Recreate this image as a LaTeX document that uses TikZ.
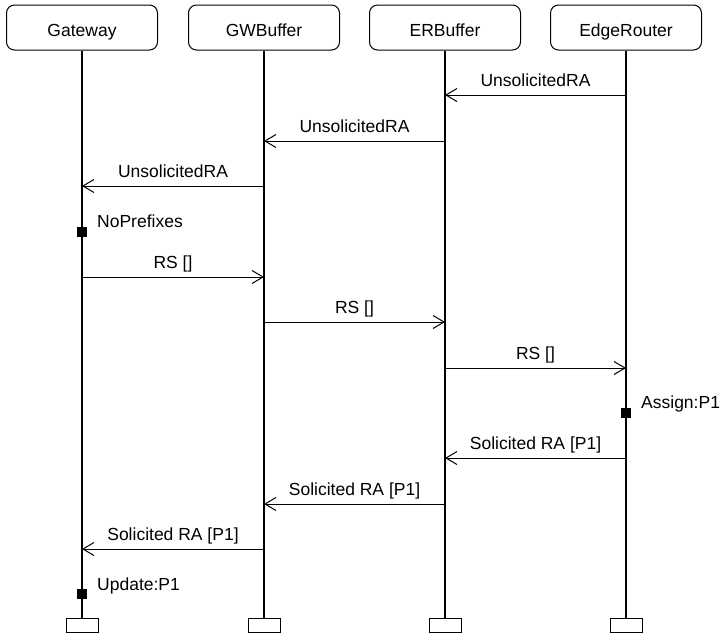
\documentclass[tikz,border=0pt]{standalone}
\usepackage{fontspec}
\setmainfont{Liberation Sans}
\usetikzlibrary{arrows.meta}
\begin{document}
\begin{tikzpicture}[x=1pt,y=-1pt,
  font=\fontsize{17.5}{20}\selectfont,
  head/.style={draw,line width=1pt,rounded corners=8pt,minimum width=151pt,minimum height=45pt,inner sep=0pt,text height=18pt,text depth=0pt},
  foot/.style={draw,line width=1pt,minimum width=32pt,minimum height=14pt,inner sep=0pt},
  life/.style={line width=2.5pt},
  msg/.style={line width=1pt,-{Straight Barb[length=11pt,width=13pt,line width=1pt]}},
  lbl/.style={anchor=base,inner sep=0pt},
  note/.style={anchor=base west,inner sep=0pt},
  statebox/.style={fill=black,draw=none,minimum size=10pt,inner sep=0pt}
]
\useasboundingbox (0,0) rectangle (725,633);

% participants
\node[head] (h1) at (82,27.5) {Gateway};
\node[head] (h2) at (264,27.5) {GWBuffer};
\node[head] (h3) at (445,27.5) {ERBuffer};
\node[head] (h4) at (626,27.5) {EdgeRouter};

% end markers
\node[foot] (f1) at (82,625) {};
\node[foot] (f2) at (264,625) {};
\node[foot] (f3) at (445,625) {};
\node[foot] (f4) at (626,625) {};

% lifelines
\draw[life] (h1.south) -- (f1.north);
\draw[life] (h2.south) -- (f2.north);
\draw[life] (h3.south) -- (f3.north);
\draw[life] (h4.south) -- (f4.north);

% message end points on the lifelines
\coordinate (a1) at (626,95);   \coordinate (b1) at (445,95);
\coordinate (a2) at (445,141);  \coordinate (b2) at (264,141);
\coordinate (a3) at (264,186);  \coordinate (b3) at (82,186);
\coordinate (a4) at (82,277);   \coordinate (b4) at (264,277);
\coordinate (a5) at (264,322);  \coordinate (b5) at (445,322);
\coordinate (a6) at (445,368);  \coordinate (b6) at (626,368);
\coordinate (a7) at (626,458);  \coordinate (b7) at (445,458);
\coordinate (a8) at (445,504);  \coordinate (b8) at (264,504);
\coordinate (a9) at (264,549);  \coordinate (b9) at (82,549);

\draw[msg] (a1) -- (b1) node[lbl,midway,yshift=8.5pt] {UnsolicitedRA};
\draw[msg] (a2) -- (b2) node[lbl,midway,yshift=8.5pt] {UnsolicitedRA};
\draw[msg] (a3) -- (b3) node[lbl,midway,yshift=8.5pt] {UnsolicitedRA};
\draw[msg] (a4) -- (b4) node[lbl,midway,yshift=8.5pt] {RS []};
\draw[msg] (a5) -- (b5) node[lbl,midway,yshift=8.5pt] {RS []};
\draw[msg] (a6) -- (b6) node[lbl,midway,yshift=8.5pt] {RS []};
\draw[msg] (a7) -- (b7) node[lbl,midway,yshift=8.5pt] {Solicited RA [P1]};
\draw[msg] (a8) -- (b8) node[lbl,midway,yshift=8.5pt] {Solicited RA [P1]};
\draw[msg] (a9) -- (b9) node[lbl,midway,yshift=8.5pt] {Solicited RA [P1]};

% state markers
\node[statebox] (s1) at (82,232) {};
\node[note] (n1) at (97,227) {NoPrefixes};
\node[statebox] (s2) at (626,413) {};
\node[note] (n2) at (641,408) {Assign:P1};
\node[statebox] (s3) at (82,594) {};
\node[note] (n3) at (97,590) {Update:P1};
\end{tikzpicture}
\end{document}
